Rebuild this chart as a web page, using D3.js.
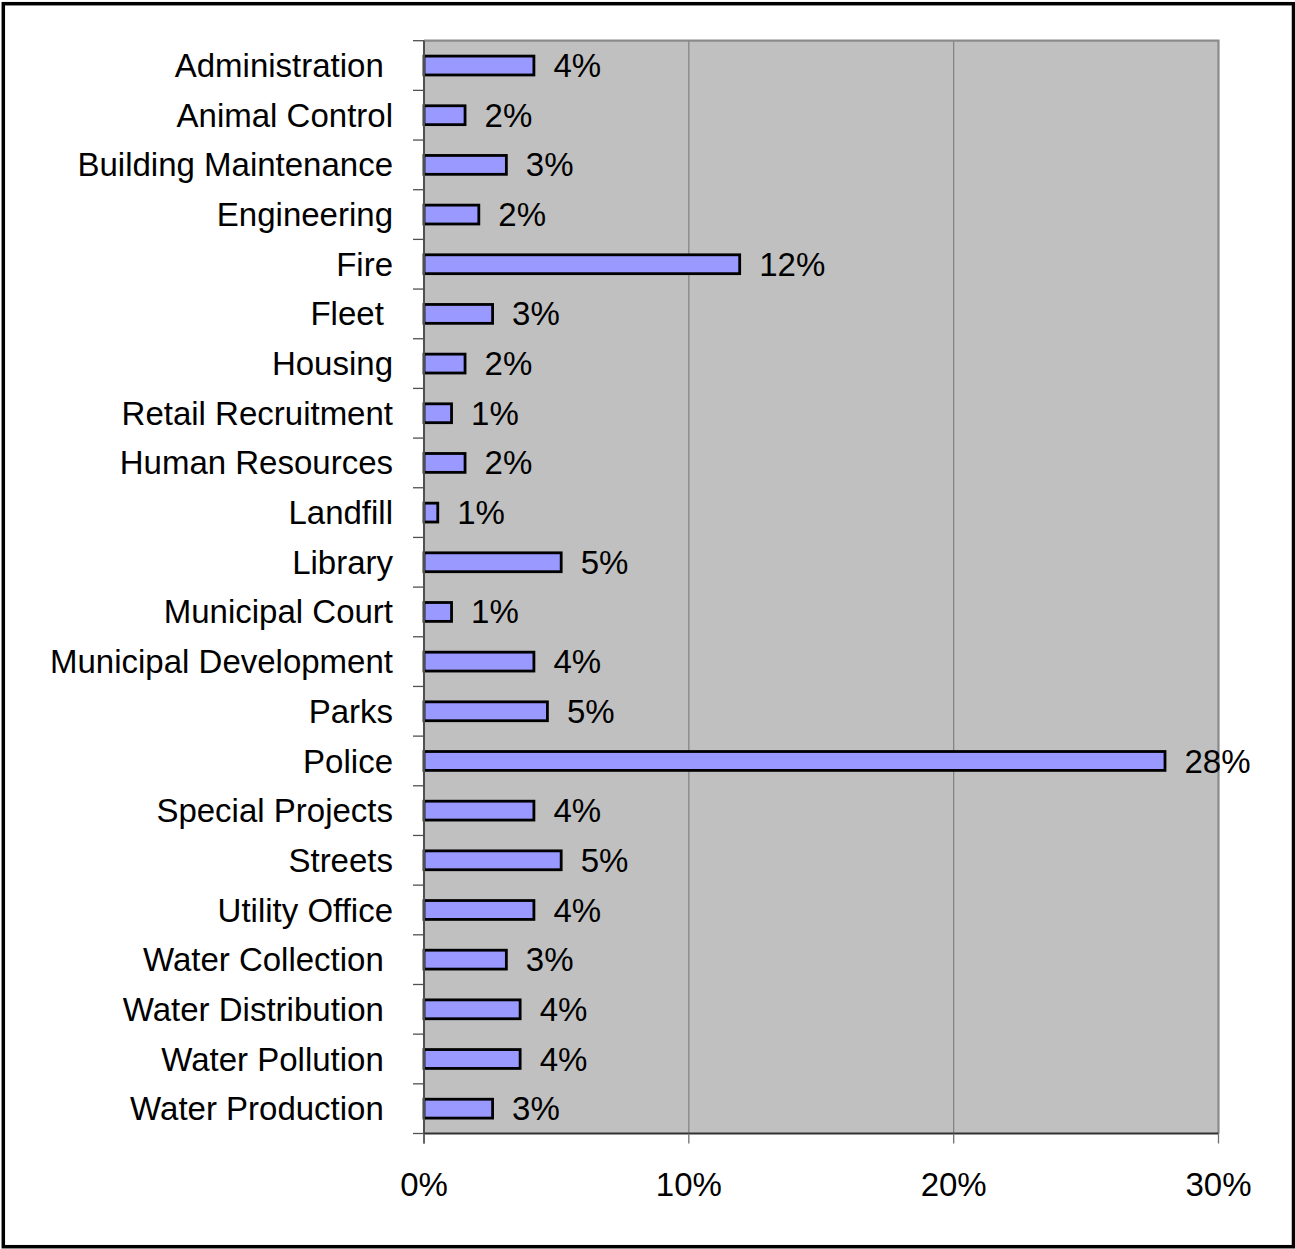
<!DOCTYPE html>
<html>
<head>
<meta charset="utf-8">
<script src="https://cdn.jsdelivr.net/npm/d3@7"></script>
<style>
  html, body { margin: 0; padding: 0; background: #fff; }
  svg { display: block; }
  text { font-family: "Liberation Sans", Arial, sans-serif; fill: #000; }
</style>
</head>
<body>
<svg id="chart" width="1295" height="1249"></svg>
<script>
// Departments (some names carry a trailing space, as entered in the source sheet)
const categories = [
  "Administration ", "Animal Control", "Building Maintenance", "Engineering",
  "Fire", "Fleet ", "Housing", "Retail Recruitment", "Human Resources",
  "Landfill", "Library", "Municipal Court", "Municipal Development", "Parks",
  "Police", "Special Projects", "Streets", "Utility Office",
  "Water Collection ", "Water Distribution ", "Water Pollution ", "Water Production "
];

// Share of total, in percent
const shares = [
  4.15, 1.55, 3.11, 2.07,
  11.92, 2.59, 1.55, 1.04, 1.55,
  0.52, 5.18, 1.04, 4.15, 4.66,
  27.98, 4.15, 5.18, 4.15,
  3.11, 3.63, 3.63, 2.59
];

// Horizontal axis ticks, in percent
const xTicks = [0, 10, 20, 30];

const data = categories.map((c, i) => ({ name: c, value: shares[i] }));

const svg = d3.select("#chart");
const plot = { left: 424, right: 1218.5, top: 40.7, bottom: 1133.5 };
const fontSize = 33;

// Outer frame
svg.append("rect")
  .attr("x", 3.3).attr("y", 3.7)
  .attr("width", 1290.2).attr("height", 1243)
  .attr("fill", "#fff")
  .attr("stroke", "#000")
  .attr("stroke-width", 3.5);

const x = d3.scaleLinear().domain([0, 30]).range([plot.left, plot.right]);
const y = d3.scaleBand()
  .domain(categories)
  .range([plot.top, plot.bottom])
  .paddingInner(0.62)
  .paddingOuter(0.31);

// Plot background
svg.append("rect")
  .attr("x", plot.left).attr("y", plot.top)
  .attr("width", plot.right - plot.left).attr("height", plot.bottom - plot.top)
  .attr("fill", "#c0c0c0");

// Vertical gridlines
svg.append("g")
  .selectAll("line")
  .data(xTicks.filter(t => t > 0 && t < 30))
  .join("line")
  .attr("x1", d => x(d)).attr("x2", d => x(d))
  .attr("y1", plot.top).attr("y2", plot.bottom)
  .attr("stroke", "#808080").attr("stroke-width", 1.2);

// Plot frame top and right
svg.append("path")
  .attr("d", `M${plot.left},${plot.top}H${plot.right}V${plot.bottom}`)
  .attr("fill", "none")
  .attr("stroke", "#8a8a8a")
  .attr("stroke-width", 2.2);

// Bars
svg.append("g")
  .selectAll("rect")
  .data(data)
  .join("rect")
  .attr("x", x(0))
  .attr("y", d => y(d.name))
  .attr("width", d => x(d.value) - x(0))
  .attr("height", y.bandwidth())
  .attr("fill", "#9999ff")
  .attr("stroke", "#000")
  .attr("stroke-width", 2.8);

// Value labels
const fmt = v => d3.format(".0%")(v / 100);
svg.append("g")
  .selectAll("text")
  .data(data)
  .join("text")
  .attr("x", d => x(d.value) + 19.5)
  .attr("y", d => y(d.name) + y.bandwidth() / 2)
  .attr("dy", "0.35em")
  .attr("font-size", fontSize)
  .text(d => fmt(d.value));

// Category axis line and tick marks at band boundaries
svg.append("line")
  .attr("x1", plot.left).attr("x2", plot.left)
  .attr("y1", plot.top).attr("y2", plot.bottom + 10)
  .attr("stroke", "#505050").attr("stroke-width", 2);

const step = y.step();
svg.append("g")
  .selectAll("line")
  .data(d3.range(categories.length + 1))
  .join("line")
  .attr("x1", plot.left - 11).attr("x2", plot.left)
  .attr("y1", i => plot.top + i * step).attr("y2", i => plot.top + i * step)
  .attr("stroke", "#505050").attr("stroke-width", 1.3);

// Category labels
svg.append("g")
  .selectAll("text")
  .data(data)
  .join("text")
  .attr("x", plot.left - 31)
  .attr("y", d => y(d.name) + y.bandwidth() / 2)
  .attr("dy", "0.35em")
  .attr("text-anchor", "end")
  .attr("font-size", fontSize)
  .style("white-space", "pre")
  .text(d => d.name);

// Value axis line, ticks and labels
svg.append("line")
  .attr("x1", plot.left).attr("x2", plot.right)
  .attr("y1", plot.bottom).attr("y2", plot.bottom)
  .attr("stroke", "#303030").attr("stroke-width", 2);

svg.append("g")
  .selectAll("line")
  .data(xTicks)
  .join("line")
  .attr("x1", d => x(d)).attr("x2", d => x(d))
  .attr("y1", plot.bottom).attr("y2", plot.bottom + 10)
  .attr("stroke", "#707070").attr("stroke-width", 1.3);

svg.append("g")
  .selectAll("text")
  .data(xTicks)
  .join("text")
  .attr("x", d => x(d))
  .attr("y", 1196)
  .attr("text-anchor", "middle")
  .attr("font-size", fontSize)
  .text(d => d + "%");
</script>
</body>
</html>
